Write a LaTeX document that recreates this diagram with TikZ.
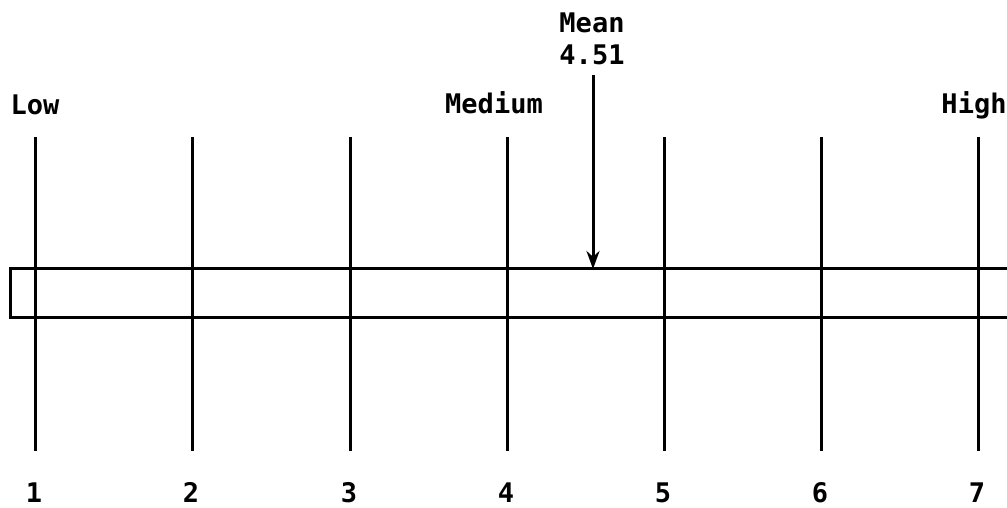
\documentclass[tikz,border=0pt]{standalone}
\usepackage{fontspec}
\setmonofont{DejaVu Sans Mono}
\usetikzlibrary{arrows.meta}
\begin{document}
\begin{tikzpicture}[x=1pt,y=-1pt,
  lbl/.style={font=\ttfamily\bfseries\fontsize{27}{34}\selectfont, inner sep=0pt, anchor=base},
  tick/.style={line width=3pt},
  bar/.style={line width=3pt},
  ptr/.style={line width=3pt, -{Stealth[length=18pt,width=13pt]}}]
\useasboundingbox (0,0) rectangle (1007,508);
% scale positions
\foreach \i/\x in {1/35,2/192,3/350,4/507,5/664,6/821,7/978}{
  \coordinate (t\i) at (\x,137);
  \coordinate (b\i) at (\x,451);
  \draw[tick] (t\i) -- (b\i);
  \node[lbl] (n\i) at (\x-1,502) {\i};
}
% bar
\coordinate (rtr) at (1012,268);
\coordinate (rtl) at (10,268);
\coordinate (rbl) at (10,317);
\coordinate (rbr) at (1012,317);
\draw[bar] (rtr) -- (rtl) -- (rbl) -- (rbr);
% labels
\node[lbl] (low) at (35,115) {Low};
\node[lbl] (med) at (494,114) {Medium};
\node[lbl] (high) at (974,114) {High};
\node[lbl] (mean) at (592,33) {Mean};
\node[lbl] (val) at (592,65) {4.51};
% mean arrow
\coordinate (as) at (593,75);
\coordinate (ae) at (593,269);
\draw[ptr] (as) -- (ae);
\end{tikzpicture}
\end{document}
